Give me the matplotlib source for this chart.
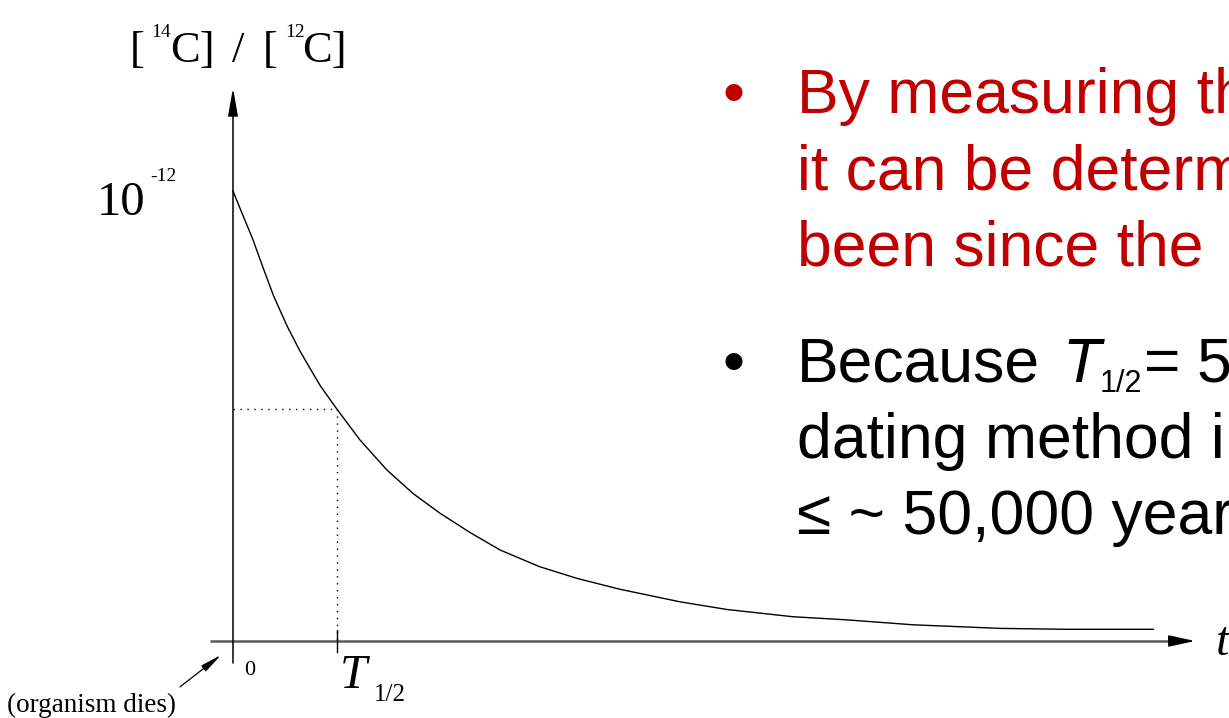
import matplotlib
matplotlib.use('Agg')
import matplotlib.pyplot as plt

# decay of the 14C / 12C ratio after death, time in half-lives, ratio in units of 1e-12
t_vals = [0, 0.07, 0.19, 0.29, 0.39, 0.52, 0.64, 0.74, 0.84, 1.0, 1.22, 1.48, 1.73,
          1.99, 2.28, 2.57, 2.95, 3.31, 3.72, 4.30, 4.75, 5.38, 5.90, 6.54, 7.38, 8.02, 8.85]
ratio = [1.0, 0.960, 0.893, 0.829, 0.767, 0.700, 0.646, 0.606, 0.567, 0.515, 0.447, 0.380,
         0.328, 0.284, 0.241, 0.202, 0.165, 0.139, 0.115, 0.087, 0.070, 0.054, 0.047, 0.036,
         0.028, 0.026, 0.026]
half_t = 1.0
half_ratio = 0.515

red_lines = ["By measuring th", "it can be determ", "been since the"]
black_lines = ["Because", "dating method i", "\u2264 ~ 50,000 year"]

W, H = 1229, 718

fig = plt.figure(figsize=(W / 100, H / 100), dpi=100)
ax = fig.add_axes([0, 0, 1, 1])
# origin of the sketch sits at pixel (233, 641); 104 px per half-life, 450 px per 1e-12
ax.set_xlim(-233 / 104, (W - 233) / 104)
ax.set_ylim(-(H - 641) / 450, 641 / 450)
ax.axis('off')


def at(x, y):
    return x / W, 1 - y / H


serif = 'Liberation Serif'
sans = 'Liberation Sans'

# axes of the sketch
ax.plot([-0.22, 9.05], [0, 0], color='#5a5a5a', lw=1.8, solid_capstyle='butt')
ax.annotate('', xy=(9.25, 0), xytext=(9.0, 0),
            arrowprops=dict(arrowstyle='-|>,head_length=1.6,head_width=0.35',
                            color='black', lw=1.2, shrinkA=0, shrinkB=0))
ax.annotate('', xy=(0, 1.229), xytext=(0, -0.049),
            arrowprops=dict(arrowstyle='-|>,head_length=1.7,head_width=0.3',
                            color='black', lw=1.1, shrinkA=0, shrinkB=0))

# decay curve with the half-life guide lines
ax.plot(t_vals, ratio, color='black', lw=1.0)
ax.plot([0, half_t], [half_ratio, half_ratio], color='black', lw=1.0, ls=(0, (1, 4)))
ax.plot([half_t, half_t], [half_ratio, 0], color='black', lw=1.0, ls=(0, (1, 4)))
ax.plot([half_t, half_t], [0.024, -0.024], color='black', lw=1.0)

# pointer to the moment of death
ax.annotate('', xy=(-0.115, -0.031), xytext=(-0.51, -0.102),
            arrowprops=dict(arrowstyle='-|>,head_length=1.3,head_width=0.22',
                            color='black', lw=0.9, shrinkA=0, shrinkB=0))

# axis labels
fig.text(*at(130, 62), '[', family=serif, size=32, va='baseline')
fig.text(*at(151, 37), '14', family=serif, size=14, va='baseline')
fig.text(*at(170, 62), 'C]', family=serif, size=32, va='baseline')
fig.text(*at(232, 62), '/', family=serif, size=32, va='baseline')
fig.text(*at(263, 62), '[', family=serif, size=32, va='baseline')
fig.text(*at(285, 37), '12', family=serif, size=14, va='baseline')
fig.text(*at(302, 62), 'C]', family=serif, size=32, va='baseline')

fig.text(*at(97, 215), '10', family=serif, size=35, va='baseline')
fig.text(*at(150, 181), '-12', family=serif, size=14, va='baseline')

fig.text(*at(244, 675), '0', family=serif, size=16, va='baseline')
fig.text(*at(340, 688), 'T', family=serif, style='italic', size=35, va='baseline')
fig.text(*at(374, 701), '1/2', family=serif, size=18, va='baseline')
fig.text(*at(1216, 655), 't', family=serif, style='italic', size=35, va='baseline')
fig.text(*at(7, 712), '(organism dies)', family=serif, size=19.5, va='baseline')

# bullet text on the right
for lines, color, y_first in [(red_lines, '#c00000', 113), (black_lines, 'black', 382)]:
    fig.text(*at(733, y_first), '\u2022', family=sans, size=45, color=color,
             ha='center', va='baseline')
    for i, line in enumerate(lines):
        fig.text(*at(797, y_first + i * 76), line, family=sans, size=45, color=color,
                 va='baseline')

# half-life symbol inside the second bullet
fig.text(*at(1062, 382), 'T', family=sans, style='italic', size=45, va='baseline')
fig.text(*at(1100, 392), '1/2', family=sans, size=22, va='baseline')
fig.text(*at(1144, 382), '=', family=sans, size=45, va='baseline')
fig.text(*at(1196, 382), '5', family=sans, size=45, va='baseline')

fig.savefig('out.png', dpi=100)
